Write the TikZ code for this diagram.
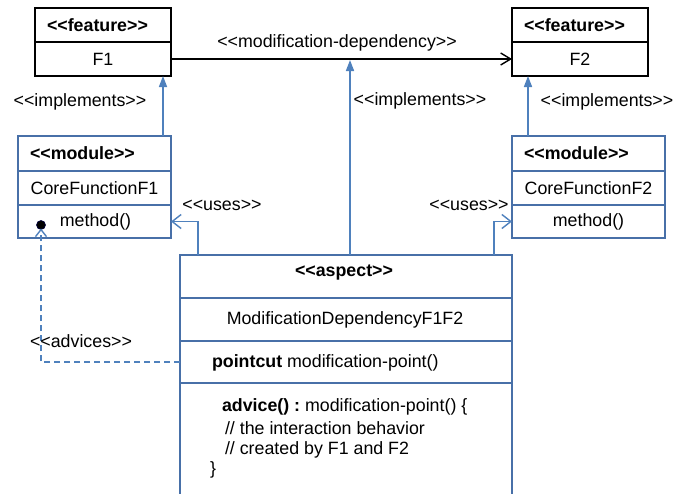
\documentclass[tikz,border=0pt]{standalone}
\usepackage{fontspec}
\newfontfamily\af{Liberation Sans}
\usetikzlibrary{arrows.meta}
\definecolor{ublue}{RGB}{79,129,189}
\definecolor{boxblue}{RGB}{72,112,168}
\begin{document}
\begin{tikzpicture}[x=1pt,y=-1pt,
  font=\af\fontsize{17.8}{21.5}\selectfont,
  every node/.style={inner sep=0pt, outer sep=0pt},
  bk/.style={draw=black, line width=1.6pt, anchor=north west},
  bl/.style={draw=boxblue, line width=1.4pt, anchor=north west},
  txt/.style={anchor=center},
  impl/.style={draw=ublue, line width=1.6pt, -{Triangle[length=11pt,width=8pt]}},
  usesarr/.style={draw=ublue, line width=1.4pt, -{Straight Barb[length=9pt,width=14pt]}},
  moddep/.style={draw=black, line width=1.4pt, -{Straight Barb[length=10pt,width=12pt]}},
  advarr/.style={draw=ublue, line width=1.4pt, dash pattern=on 6pt off 4pt, -{Straight Barb[length=7pt,width=11pt]}}]
\clip (0,0) rectangle (685,493);
\fill[white] (0,0) rectangle (685,493);

% Feature F1
\node[bk, minimum width=136pt, minimum height=34pt] (f1h) at (35,8) {};
\node[bk, minimum width=136pt, minimum height=34pt] (f1b) at (35,42) {};
\node[anchor=west] (f1ht) at ([xshift=12pt]f1h.west) {\textbf{<<feature>>}};
\node[txt] (f1bt) at (f1b.center) {F1};

% Feature F2
\node[bk, minimum width=136pt, minimum height=34pt] (f2h) at (512,8) {};
\node[bk, minimum width=136pt, minimum height=34pt] (f2b) at (512,42) {};
\node[anchor=west] (f2ht) at ([xshift=12pt]f2h.west) {\textbf{<<feature>>}};
\node[txt] (f2bt) at (f2b.center) {F2};

% Module F1
\node[bl, minimum width=153pt, minimum height=35pt] (m1h) at (18,136) {};
\node[bl, minimum width=153pt, minimum height=34pt] (m1n) at (18,171) {};
\node[bl, minimum width=153pt, minimum height=33pt] (m1m) at (18,205) {};
\node[anchor=west] (m1ht) at ([xshift=12pt]m1h.west) {\textbf{<<module>>}};
\node[txt] (m1nt) at (m1n.center) {CoreFunctionF1};
\node[txt] (m1mt) at ([xshift=1pt]m1m.center) {method()};
\node[circle, fill=black, draw=black!75!blue, line width=0.6pt, minimum size=9pt] (dot) at (41,225) {};

% Module F2
\node[bl, minimum width=153pt, minimum height=35pt] (m2h) at (512,136) {};
\node[bl, minimum width=153pt, minimum height=34pt] (m2n) at (512,171) {};
\node[bl, minimum width=153pt, minimum height=33pt] (m2m) at (512,205) {};
\node[anchor=west] (m2ht) at ([xshift=12pt]m2h.west) {\textbf{<<module>>}};
\node[txt] (m2nt) at (m2n.center) {CoreFunctionF2};
\node[txt] (m2mt) at (m2m.center) {method()};

% Aspect
\node[bl, minimum width=332pt, minimum height=43pt] (ah) at (180,255) {};
\node[bl, minimum width=332pt, minimum height=43pt] (an) at (180,298) {};
\node[bl, minimum width=332pt, minimum height=42pt] (ap) at (180,341) {};
\node[bl, minimum width=332pt, minimum height=140pt] (ab) at (180,383) {};
\node[txt] (aht) at (344,273) {\textbf{<<aspect>>}};
\node[txt] (ant) at (345,320) {ModificationDependencyF1F2};
\node[anchor=west] (apt) at (212,363) {\textbf{pointcut} modification-point()};
\node[anchor=west] (ab1) at (222,407) {\textbf{advice() :}~modification-point() \{};
\node[anchor=west] (ab2) at (225,428) {// the interaction behavior};
\node[anchor=west] (ab3) at (225,450) {// created by F1 and F2};
\node[anchor=west] (ab4) at (210,470) {\}};

% Connectors
\draw[moddep] (f1b.east) -- (f2b.west);
\node[txt] (lmd) at (337,43) {<<modification-dependency>>};

\draw[impl] ([xshift=-8pt]m1h.north east) -- ([xshift=-8pt]f1b.south east);
\node[txt] (li1) at (80,102) {<<implements>>};

\coordinate (mdmid) at (350,60);
\draw[impl] (ah.north -| mdmid) -- (mdmid);
\node[txt] (li2) at (420,101) {<<implements>>};

\draw[impl] ([xshift=16pt]m2h.north west) -- ([xshift=16pt]f2b.south west);
\node[txt] (li3) at (607,102) {<<implements>>};

\draw[usesarr] ([xshift=18pt]ah.north west) |- (m1m.east);
\node[txt] (lu1) at (222,205) {<<uses>>};

\draw[usesarr] ([xshift=-18pt]ah.north east) |- (m2m.west);
\node[txt] (lu2) at (469,205) {<<uses>>};

\draw[advarr] (ap.west) -| ([yshift=1pt]dot.south);
\node[txt] (lad) at (81,341) {<<advices>>};
\end{tikzpicture}
\end{document}
